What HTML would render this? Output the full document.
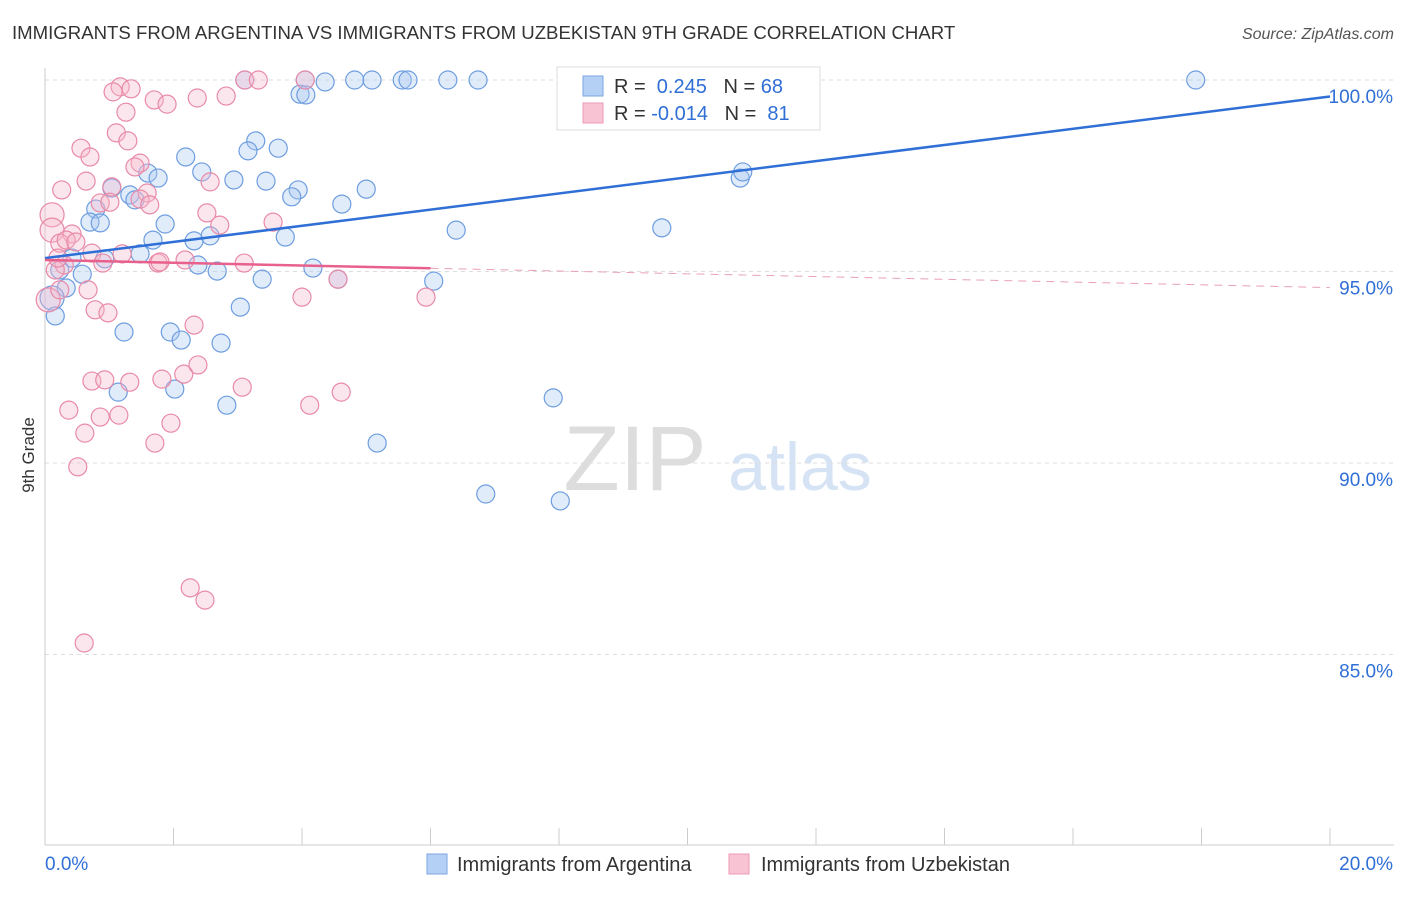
<!DOCTYPE html>
<html><head><meta charset="utf-8"><style>
body{margin:0;background:#fff;font-family:"Liberation Sans",sans-serif}
svg text{font-family:"Liberation Sans",sans-serif}
</style></head><body>
<svg id="chart" width="1406" height="892" xmlns="http://www.w3.org/2000/svg">
<text x="12" y="39" font-size="18.6" fill="#333">IMMIGRANTS FROM ARGENTINA VS IMMIGRANTS FROM UZBEKISTAN 9TH GRADE CORRELATION CHART</text>
<text x="1394" y="39" font-size="16" fill="#555" text-anchor="end" font-style="italic">Source: ZipAtlas.com</text>
<g>
<text x="635" y="490" font-size="92" fill="#ddd" text-anchor="middle" font-family="Liberation Serif">ZIP</text>
<text x="800" y="490" font-size="68" fill="#d5e3f5" text-anchor="middle">atlas</text>
</g>
<g id="grid"></g><g id="axes"></g><g id="pts"></g><g id="trends"></g>
<text transform="translate(34,455) rotate(-90)" font-size="17" fill="#333" text-anchor="middle">9th Grade</text>
<g>
<rect x="557" y="67" width="263" height="63" fill="#fff" stroke="#ddd"/>
<rect x="583" y="76" width="20" height="20" fill="#b5d0f5" stroke="#7aa6e3"/>
<rect x="583" y="103" width="20" height="20" fill="#f8c4d4" stroke="#eb9ab4"/>
<text x="614" y="93" font-size="20" fill="#333">R = <tspan fill="#2f6fd6">&#160;0.245</tspan>&#160;&#160;&#160;N = <tspan fill="#2f6fd6">68</tspan></text>
<text x="614" y="120" font-size="20" fill="#333">R = <tspan fill="#2f6fd6">-0.014</tspan>&#160;&#160;&#160;N = <tspan fill="#2f6fd6">&#160;81</tspan></text>
</g>
<g>
<rect x="427" y="854" width="20" height="20" fill="#b5d0f5" stroke="#7aa6e3"/>
<text x="457" y="871" font-size="20" fill="#333">Immigrants from Argentina</text>
<rect x="729" y="854" width="20" height="20" fill="#f8c4d4" stroke="#eb9ab4"/>
<text x="761" y="871" font-size="20" fill="#333">Immigrants from Uzbekistan</text>
</g>
</svg>
<script>
const xTicks=[0,2,4,6,8,10,12,14,16,18,20];
const yTicks=[85,90,95,100];
const yTickLabels=["85.0%","90.0%","95.0%","100.0%"];
const blueX=[3.11,4.05,4.36,4.82,5.09,5.56,5.65,6.27,6.74,8.20,8.95,17.91,3.97,4.06,3.28,3.16,3.63,2.19,2.44,1.60,1.76,2.94,3.44,3.94,3.84,5.00,4.62,1.04,1.32,1.40,0.79,0.70,0.86,1.87,2.57,2.32,1.68,3.74,6.40,9.60,10.82,10.86,1.48,0.93,0.42,0.23,0.58,2.38,2.68,3.38,4.17,4.56,6.05,0.33,0.11,0.16,1.23,1.95,2.12,2.74,3.04,1.14,2.02,2.83,5.17,7.91,6.86,8.02];
const blueY=[100,100,99.95,100,100,100,100,100,100,100,100,100,99.63,99.61,98.41,98.15,98.22,97.99,97.60,97.57,97.44,97.39,97.36,97.13,96.95,97.15,96.76,97.18,97.00,96.87,96.63,96.29,96.27,96.24,95.93,95.80,95.82,95.90,96.08,96.14,97.44,97.60,95.46,95.33,95.35,95.04,94.93,95.17,95.01,94.80,95.09,94.80,94.75,94.57,94.31,93.84,93.42,93.42,93.21,93.13,94.07,91.85,91.93,91.51,90.52,91.70,89.19,89.01];
const pinkX=[3.11,3.32,4.05,1.17,1.34,1.06,1.70,1.90,2.37,2.82,1.26,1.11,1.29,0.56,0.70,1.48,1.40,0.64,0.26,1.04,1.59,2.57,0.86,1.01,1.48,1.63,2.52,2.72,3.55,0.11,0.11,0.42,0.23,0.33,0.48,0.73,0.30,0.16,1.20,0.90,1.76,1.79,2.18,3.10,0.20,0.05,0.23,0.67,4.00,4.56,5.93,0.78,0.98,2.32,0.73,0.93,1.32,1.82,2.16,2.38,3.07,4.61,4.12,0.37,0.86,1.15,0.62,1.71,1.96,0.51,2.26,2.49,0.61];
const pinkY=[100,100,100,99.82,99.77,99.69,99.48,99.37,99.53,99.58,99.16,98.62,98.41,98.22,97.99,97.83,97.73,97.36,97.13,97.21,97.05,97.34,96.79,96.81,96.89,96.74,96.53,96.21,96.29,96.48,96.08,95.98,95.74,95.82,95.77,95.48,95.17,95.04,95.46,95.22,95.22,95.25,95.30,95.22,95.35,94.26,94.52,94.52,94.33,94.80,94.33,94.00,93.92,93.60,92.14,92.17,92.11,92.19,92.32,92.56,91.98,91.85,91.51,91.38,91.20,91.25,90.78,90.52,91.04,89.90,86.74,86.42,85.30];
const blueTrend=[95.35,99.57];
const pinkTrend=[95.30,94.58];
const pinkSolidEnd=6.0;
const NS="http://www.w3.org/2000/svg";
const X=v=>45+v/20*1285;
const Y=v=>80+(100-v)/5*191.5;
function mk(t,a,p){const e=document.createElementNS(NS,t);for(const k in a)e.setAttribute(k,a[k]);p.appendChild(e);return e;}
const grid=document.getElementById('grid'),axes=document.getElementById('axes'),pts=document.getElementById('pts'),tr=document.getElementById('trends');
yTicks.forEach((t,i)=>{
 const l=mk('line',{x1:45,x2:1394,y1:Y(t),y2:Y(t),stroke:'#ddd','stroke-dasharray':'4,4'},grid);
 
 
 const tx=mk('text',{x:1393,y:Y(t)+23,'font-size':19,fill:'#2f6fd6','text-anchor':'end'},axes);
 tx.textContent=yTickLabels[i];
 
 
});
const ax=mk('line',{x1:45,x2:1394,y1:845,y2:845,stroke:'#ccc'},axes);


const ay=mk('line',{x1:45,x2:45,y1:68,y2:845,stroke:'#ccc'},axes);


xTicks.forEach(t=>{
 const l=mk('line',{x1:X(t),x2:X(t),y1:828,y2:845,stroke:'#ccc'},axes);
 
 
});
[[0,'0.0%','start',45],[20,'20.0%','end',1393]].forEach(d=>{
 const tx=mk('text',{x:d[3],y:870,'font-size':19,fill:'#2f6fd6','text-anchor':d[2]},axes);
 tx.textContent=d[1];
 
 
});
function dots(xs,ys,fill,stroke,name){
 xs.forEach((x,i)=>{
  const r=(x<0.15)?12:9;
  const c=mk('circle',{cx:X(x),cy:Y(ys[i]),r:r,fill:fill,'fill-opacity':0.35,stroke:stroke,'stroke-width':1.2},pts);
  
  
 });
}
dots(blueX,blueY,'#a9c8f0','#6d9de0','point-argentina');
dots(pinkX,pinkY,'#f5b8cb','#e88aa8','point-uzbekistan');
const bl=mk('line',{x1:X(0),y1:Y(blueTrend[0]),x2:X(20),y2:Y(blueTrend[1]),stroke:'#2f6fd6','stroke-width':2.5},tr);


const pm=pinkTrend[0]+(pinkTrend[1]-pinkTrend[0])*pinkSolidEnd/20;
const pl=mk('line',{x1:X(0),y1:Y(pinkTrend[0]),x2:X(pinkSolidEnd),y2:Y(pm),stroke:'#e8608c','stroke-width':2.5},tr);


const pd=mk('line',{x1:X(pinkSolidEnd),y1:Y(pm),x2:X(20),y2:Y(pinkTrend[1]),stroke:'#e8a0b8','stroke-width':1,'stroke-dasharray':'8,6'},tr);


</script>
</body></html>
